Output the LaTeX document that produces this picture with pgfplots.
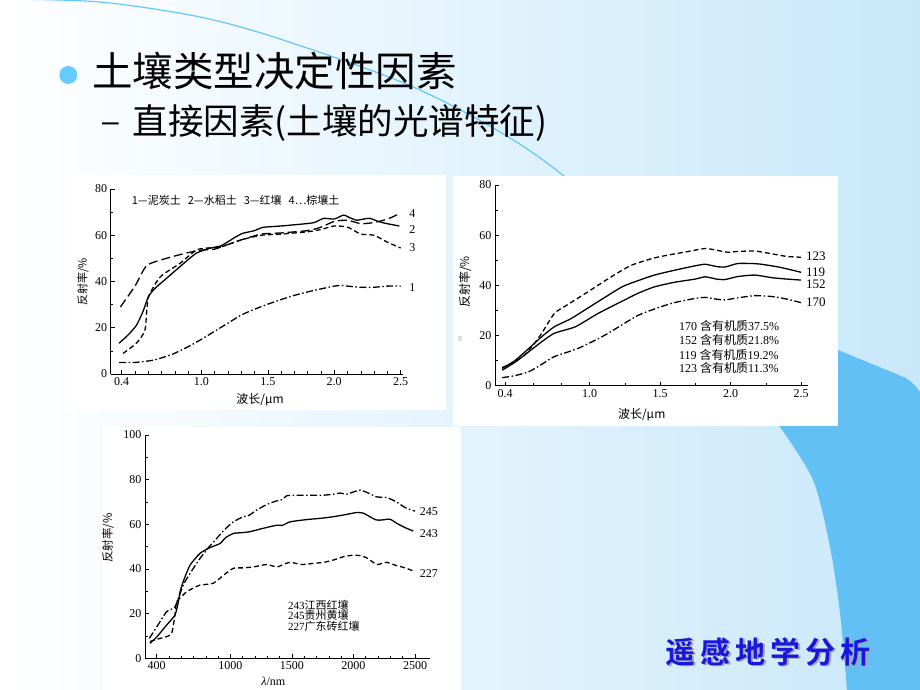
\documentclass[border=0pt]{standalone}
\usepackage{fontspec}
\usepackage{pgfplots}
\pgfplotsset{compat=1.18}
\setmainfont{Liberation Serif}
\newfontfamily\cjk{Noto Sans CJK SC}
\newfontfamily\cjkb{Noto Sans CJK SC Bold}
\newfontfamily\sansf{Liberation Sans}
\newcommand{\fs}[1]{\fontsize{#1}{#1}\selectfont}
\newcommand{\zh}[1]{{\cjk #1}}
\definecolor{bgblue}{RGB}{200,232,250}
\definecolor{arcblue}{RGB}{102,200,248}
\definecolor{bandblue}{RGB}{98,192,244}
\definecolor{bulletblue}{RGB}{102,204,255}
\definecolor{logoblue}{RGB}{24,24,220}
\pgfplotsset{
  chart/.style={
    scale only axis, axis lines=left, axis line style={-, line width=0.8pt},
    tick style={black, line width=0.6pt}, major tick length=4pt, minor tick length=2.5pt,
    tick align=inside, clip=false,
    ticklabel style={font=\fs{12}},
    /pgf/number format/assume math mode=true,
    cycle list={{black}},
    every axis plot/.append style={line width=1.3pt, black, no markers, smooth, tension=0.35},
  },
  dashd/.style={dash pattern=on 5pt off 3pt},
  longd/.style={dash pattern=on 9pt off 4pt},
  dashdot/.style={dash pattern=on 7pt off 2.5pt on 1.5pt off 2.5pt},
}
\begin{document}
\begin{tikzpicture}[x=1pt,y=1pt]
\useasboundingbox (0,0) rectangle (920,690);
\shade[left color=white, right color=bgblue] (0,0) rectangle (920,690);
% right blue band
\fill[bandblue] plot[smooth] coordinates {(780,263) (813,210) (830,143) (840,77) (847,0)} -- (920,0) -- (920,298) .. controls (914,306) .. (906,312) -- (838,340) -- (770,340) -- (776,270) -- cycle;
% arc line
\draw[arcblue, line width=1.2pt] plot[smooth] coordinates {(0,691) (100,688) (200,673) (283,650) (420,600) (543,530) (680,410) (790,263)};
% white chart panels
\fill[white] (66,280) rectangle (446,515);
\fill[white] (453,264) rectangle (838,514);
\fill[white] (103,0) rectangle (461,263);
\fill[gray!25] (457.7,349) rectangle (462.3,354);

% title
\fill[bulletblue] (68.3,615) circle (9);
\node[anchor=base west, inner sep=0, font=\cjk\fs{40.5}] at (92,603) {土壤类型决定性因素};
\node[inner sep=0, font=\sansf\fs{30}] at (110.5,562.3) {–};
\node[anchor=base west, inner sep=0, font=\cjk\fs{35.5}] at (132.5,555.2) {直接因素(土壤的光谱特征)};

% ---------------- chart 1 ----------------
\begin{axis}[chart, at={(110.7pt,316pt)}, anchor=south west, width=292.6pt, height=185pt,
  xmin=0.317, xmax=2.52, ymin=0, ymax=80,
  xtick={0.4,1.0,1.5,2.0,2.5}, xticklabels={0.4,1.0,1.5,2.0,2.5},
  minor xtick={0.5,0.6,0.7,0.8,0.9,1.1,1.2,1.3,1.4,1.6,1.7,1.8,1.9,2.1,2.2,2.3,2.4},
  ytick={0,20,40,60,80}, minor ytick={10,30,50,70}]
\addplot[dashdot] coordinates {(0.38,5.0) (0.5,5.0) (0.64,6.0) (0.78,8.5) (0.9,11.8) (1.0,15) (1.1,18.5) (1.2,22) (1.3,25.5) (1.4,28) (1.5,30.2) (1.6,32.2) (1.7,34) (1.8,35.5) (1.9,36.8) (2.0,38) (2.05,38.3) (2.1,38) (2.2,37.5) (2.3,37.5) (2.4,38) (2.5,38)};
\addplot[black] coordinates {(0.38,13.3) (0.45,17) (0.51,21) (0.56,27) (0.6,33.4) (0.65,37) (0.75,42) (0.85,47) (0.96,52.2) (1.06,54.3) (1.15,55.5) (1.25,59) (1.31,60.8) (1.4,62) (1.46,63.4) (1.6,64) (1.77,64.9) (1.85,65.5) (1.92,67.3) (2.0,67) (2.07,68.7) (2.12,67.5) (2.17,66.5) (2.22,67) (2.27,67.3) (2.33,66) (2.39,65.1) (2.49,64)};
\addplot[dashd] coordinates {(0.41,8.9) (0.51,13.3) (0.575,19) (0.6,33) (0.69,42) (0.84,47.9) (0.96,53.6) (1.05,54.5) (1.15,55) (1.3,58) (1.45,60) (1.6,60.5) (1.8,61.5) (1.9,62.5) (2.0,64) (2.1,63.5) (2.2,60.5) (2.3,60) (2.4,57) (2.5,54.5)};
\addplot[longd] coordinates {(0.39,29) (0.5,38) (0.59,47) (0.76,50.4) (0.9,52.5) (1.01,53.6) (1.1,54) (1.2,56) (1.3,58) (1.45,60.5) (1.6,61) (1.8,62) (1.9,63.5) (2.0,66) (2.1,66.5) (2.2,65) (2.3,65.5) (2.4,67) (2.5,69.5)};
\node[anchor=west, font=\fs{12}] at (axis cs:2.54,69.5) {4};
\node[anchor=west, font=\fs{12}] at (axis cs:2.54,62.5) {2};
\node[anchor=west, font=\fs{12}] at (axis cs:2.54,54.8) {3};
\node[anchor=west, font=\fs{12}] at (axis cs:2.54,37.5) {1};
\node[anchor=west, font=\cjk\fs{11}] at (axis cs:0.45,75) {1—泥炭土\hspace{7pt}2—水稻土\hspace{7pt}3—红壤\hspace{7pt}4…棕壤土};
\end{axis}
\node[rotate=90, font=\cjk\fs{11}] at (83,408.3) {反射率/\%};
\node[font=\cjk\fs{12}] at (260,290) {波长/μm};

% ---------------- chart 2 ----------------
\begin{axis}[chart, at={(495pt,304.3pt)}, anchor=south west, width=313pt, height=200.7pt,
  xmin=0.329, xmax=2.549, ymin=0, ymax=80,
  xtick={0.4,1.0,1.5,2.0,2.5}, xticklabels={0.4,1.0,1.5,2.0,2.5},
  minor xtick={0.6,0.8,1.25,1.75,2.25},
  ytick={0,20,40,60,80}, minor ytick={10,30,50,70}]
\addplot[dashd] coordinates {(0.38,7.2) (0.45,9) (0.54,12.2) (0.65,20) (0.75,28.8) (0.85,32.5) (0.99,37.5) (1.1,41.5) (1.2,45) (1.3,48.1) (1.45,50.8) (1.56,52.1) (1.7,53.5) (1.82,54.7) (1.9,54) (1.98,53.2) (2.05,53.5) (2.17,53.7) (2.3,52.5) (2.4,51.5) (2.5,51.2)};
\addplot[black] coordinates {(0.38,6.9) (0.47,10) (0.57,14.9) (0.66,19.5) (0.75,23.5) (0.87,26.8) (1.04,32.8) (1.23,39.4) (1.35,42) (1.46,44.1) (1.6,46) (1.75,47.8) (1.82,48.4) (1.9,47.5) (1.96,47.3) (2.05,48.7) (2.15,48.7) (2.22,48.4) (2.35,47.2) (2.5,45.2)};
\addplot[black] coordinates {(0.38,6.2) (0.47,9.3) (0.57,13.6) (0.66,17.5) (0.75,20.9) (0.9,23.5) (1.06,28.8) (1.27,34.8) (1.35,37) (1.46,39.4) (1.6,41.2) (1.75,42.5) (1.82,43.4) (1.9,42.5) (1.96,42.3) (2.05,43.5) (2.17,44.1) (2.3,43) (2.4,42.5) (2.5,42.1)};
\addplot[dashdot] coordinates {(0.38,3.2) (0.47,4) (0.57,5.6) (0.66,8.5) (0.75,11.6) (0.92,14.9) (1.11,20.2) (1.35,28.2) (1.58,32.8) (1.75,34.8) (1.82,35.2) (1.9,34.5) (1.96,34.2) (2.05,35) (2.17,35.9) (2.3,35.5) (2.4,34.5) (2.5,33.1)};
\node[anchor=west, font=\fs{13}] at (axis cs:2.51,51.4) {123};
\node[anchor=west, font=\fs{13}] at (axis cs:2.51,45.2) {119};
\node[anchor=west, font=\fs{13}] at (axis cs:2.51,40.4) {152};
\node[anchor=west, font=\fs{13}] at (axis cs:2.51,33.1) {170};
\node[anchor=west, font=\fs{12}] at (axis cs:1.61,23.8) {170 \zh{含有机质}37.5\%};
\node[anchor=west, font=\fs{12}] at (axis cs:1.61,18.3) {152 \zh{含有机质}21.8\%};
\node[anchor=west, font=\fs{12}] at (axis cs:1.61,12.4) {119 \zh{含有机质}19.2\%};
\node[anchor=west, font=\fs{12}] at (axis cs:1.61,6.9) {123 \zh{含有机质}11.3\%};
\end{axis}
\node[rotate=90, font=\cjk\fs{12}] at (465,408) {反射率/\%};
\node[font=\cjk\fs{12}] at (641.7,275) {波长/μm};

% ---------------- chart 3 ----------------
\begin{axis}[chart, at={(145pt,31.7pt)}, anchor=south west, width=285pt, height=223.3pt,
  xmin=305, xmax=2622, ymin=0, ymax=100,
  xtick={400,1000,1500,2000,2500}, xticklabels={400,1000,1500,2000,2500},
  minor xtick={500,600,700,800,900,1100,1200,1300,1400,1600,1700,1800,1900,2100,2200,2300,2400},
  ytick={0,20,40,60,80,100}, minor ytick={10,30,50,70,90}]
\addplot[dashdot] coordinates {(340,8.9) (400,14) (481,20.9) (549,23.1) (616,32.8) (671,38) (752,44.7) (820,49.5) (888,53.7) (950,57.5) (1023,61.1) (1104,63.4) (1150,64) (1213,66.4) (1300,69) (1376,70.5) (1420,71) (1457,72.8) (1550,73) (1650,73) (1750,73) (1836,73.5) (1890,74) (1945,73.5) (2000,74.5) (2053,75.3) (2100,74.5) (2188,72.3) (2270,72) (2350,70) (2420,67.5) (2500,65.9)};
\addplot[black] coordinates {(345,6.7) (400,9.5) (481,14.9) (549,19.4) (575,25) (590,29.8) (620,35) (671,41.7) (752,47) (830,49.5) (915,51.4) (960,54) (1023,55.9) (1100,56.3) (1159,56.7) (1250,58) (1376,59.6) (1420,59.5) (1484,61.1) (1600,62) (1750,62.8) (1836,63.4) (1950,64.5) (2026,65.3) (2080,65) (2130,63.5) (2188,61.9) (2240,62) (2297,62.3) (2350,60.5) (2420,58.5) (2486,57)};
\addplot[dashd] coordinates {(345,7.5) (400,8.5) (481,9.7) (522,11.2) (545,18) (562,25.3) (600,27.5) (643,29.8) (700,31.5) (752,32.8) (860,33.6) (950,37.5) (1023,40.3) (1100,40.5) (1186,40.9) (1294,42) (1376,40.9) (1430,42) (1484,43) (1580,42) (1673,42.5) (1760,43) (1836,44) (1920,45.5) (1999,46.2) (2050,46) (2107,45) (2188,42) (2230,42.5) (2270,43) (2350,41.5) (2420,40.5) (2500,38.8)};
\node[anchor=west, font=\fs{12}] at (axis cs:2510,65.9) {245};
\node[anchor=west, font=\fs{12}] at (axis cs:2510,55.9) {243};
\node[anchor=west, font=\fs{12}] at (axis cs:2510,38) {227};
\node[anchor=west, font=\fs{11}] at (axis cs:1440,23.8) {243\zh{江西红壤}};
\node[anchor=west, font=\fs{11}] at (axis cs:1440,19.1) {245\zh{贵州黄壤}};
\node[anchor=west, font=\fs{11}] at (axis cs:1440,14.2) {227\zh{广东砖红壤}};
\end{axis}
\node[rotate=90, font=\cjk\fs{11.5}] at (108,152) {反射率/\%};
\node[font=\fs{12}] at (273.3,8.3) {{\itshape λ}/nm};

% logo
\node[anchor=base west, inner sep=0, font=\cjkb\fs{30}, text=black!35] at (667,25) {遥\hspace{5pt}感\hspace{5pt}地\hspace{5pt}学\hspace{5pt}分\hspace{5pt}析};
\node[anchor=base west, inner sep=0, font=\cjkb\fs{30}, text=logoblue] at (665,27) {遥\hspace{5pt}感\hspace{5pt}地\hspace{5pt}学\hspace{5pt}分\hspace{5pt}析};
\end{tikzpicture}
\end{document}
